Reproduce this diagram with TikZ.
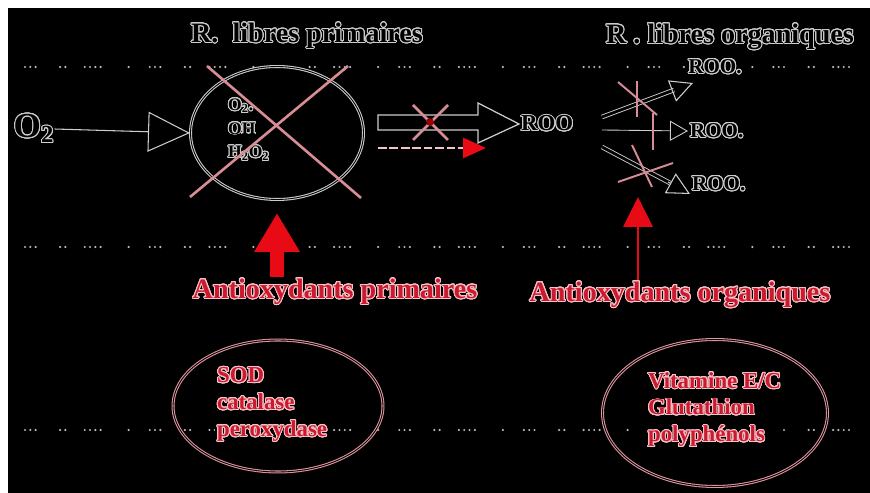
\documentclass[tikz,border=0pt]{standalone}
\usepackage{fontspec}
\setmainfont{Liberation Serif}
\usepackage{contour}
\usetikzlibrary{positioning,arrows.meta,shapes.geometric}
\contourlength{0.55pt}
\contournumber{24}

\definecolor{outl}{RGB}{205,205,205}
\definecolor{xpink}{RGB}{215,140,150}
\definecolor{arrred}{RGB}{232,10,20}
\definecolor{ellpink}{RGB}{225,150,160}
\definecolor{redtxt}{RGB}{205,25,45}
\definecolor{pinkrim}{RGB}{245,195,200}
\definecolor{dotgray}{RGB}{185,185,185}

\newcommand{\hol}[1]{\contour{outl}{\textcolor{black}{#1}}}
\newcommand{\redhol}[1]{\contour{pinkrim}{\textcolor{redtxt}{#1}}}

\begin{document}
\begin{tikzpicture}[
  x=0.02cm, y=-0.02cm,
  lbl/.style={font=\bfseries\fontsize{16}{18}\selectfont, inner sep=1pt, fill=black},
  roo/.style={font=\bfseries\fontsize{12}{14}\selectfont, inner sep=1pt, fill=black},
  enz/.style={font=\bfseries\fontsize{13}{15.3}\selectfont, align=left, anchor=west, inner sep=1pt, fill=black},
  oval/.style={ellipse, draw=ellpink, line width=0.6pt, double=black, double distance=0.5pt},
  cross/.style={draw=xpink, line width=1.5pt},
  hollowline/.style={draw=outl, line width=0.5pt, double=black, double distance=1.6pt},
  dotrow/.style={draw=dotgray, line width=1.4pt, line cap=round,
    dash pattern=on 0pt off 3pt on 0pt off 3pt on 0pt off 14pt on 0pt off 3pt on 0pt off 11pt
      on 0pt off 3pt on 0pt off 3pt on 0pt off 3pt on 0pt off 16pt on 0pt off 12pt}
]
  \useasboundingbox (0,0) rectangle (870,493);
  \fill[white] (0,0) rectangle (870,493);
  \fill[black] (8,8) rectangle (870,493);

  % dotted rows
  \foreach \yy in {67,247,430}
    \draw[dotrow] (25,\yy) -- (868,\yy);

  % titles
  \node[lbl] (titprim) at (307,36) {\hol{R.~ libres primaires}};
  \node[lbl] (titorg) at (730,37) {\hol{R . libres organiques}};

  % primary radicals
  \node[font=\bfseries\fontsize{20}{22}\selectfont, inner sep=0pt] (o2) at (34,129) {\hol{O\textsubscript{2}}};
  \node[oval, draw=outl, minimum width=3.46cm, minimum height=2.66cm] (primell) at (277,133) {};
  \node[font=\bfseries\fontsize{10}{13.5}\selectfont, align=left, anchor=west, inner sep=1pt] (radtxt) at (226,130)
    {\hol{O\textsubscript{2}.}\\\hol{OH}\\\hol{H\textsubscript{2}O\textsubscript{2}}};
  \draw[outl, line width=0.6pt, -{Triangle[open, length=0.84cm, width=0.8cm]}] (o2.east) -- (primell.west);
  \draw[cross] (207,66) -- (361,198);
  \draw[cross] (190,197) -- (348,66);

  % hollow block arrow towards ROO
  \node[roo, font=\bfseries\fontsize{13}{15}\selectfont, anchor=west] (roo1) at (519,124) {\hol{ROO}};
  \draw[outl, line width=0.7pt] (378,115) -- (478,115) -- (478,103) -- (roo1.west)
    -- (478,143) -- (478,130) -- (378,130) -- cycle;
  \draw[cross] (413,105) -- (448,140);
  \draw[cross] (448,105) -- (413,140);
  \fill[red!60!black] (430,122) circle (2.2pt);
  \coordinate (dashs) at (378,148);
  \coordinate (dashe) at (486,148);
  \draw[pinkrim, line width=1.6pt, dash pattern=on 5pt off 1.5pt,
    -{Triangle[length=0.46cm, width=0.4cm, color=arrred]}] (dashs) -- (dashe);

  % organic radicals
  \node[roo] (roo2) at (715,67) {\hol{ROO.}};
  \node[roo, anchor=west] (roo3) at (688,131) {\hol{ROO.}};
  \node[roo, anchor=west] (roo4) at (690,184) {\hol{ROO.}};
  \coordinate (srcup) at (602,117);
  \coordinate (srcmid) at (602,130);
  \coordinate (srclow) at (602,147);
  \coordinate (tipup) at (693,83);
  \coordinate (tiplow) at (690,194);
  \draw[hollowline] (srcup) -- (674,90);
  \draw[outl, line width=0.6pt, -{Triangle[open, length=0.45cm, width=0.45cm]}] (672,91) -- (tipup);
  \draw[outl, line width=0.5pt, -{Triangle[open, length=0.36cm, width=0.4cm]}] (srcmid) -- (roo3.west);
  \draw[hollowline] (srclow) -- (670,183);
  \draw[outl, line width=0.6pt, -{Triangle[open, length=0.45cm, width=0.45cm]}] (668,182) -- (tiplow);
  \draw[cross, line width=1.1pt] (618,82) -- (657,115);
  \draw[cross, line width=1.1pt] (637,81) -- (637,117);
  \draw[xpink, line width=0.8pt] (653,113) -- (653,150);
  \draw[cross, line width=1.1pt] (632,145) -- (652,187);
  \draw[cross, line width=1.1pt] (618,182) -- (673,163);

  % antioxidants
  \node[lbl] (antprim) at (335,292) {\redhol{Antioxydants primaires}};
  \node[lbl] (antorg) at (680,295) {\redhol{Antioxydants organiques}};
  \coordinate (primtip) at (277,213);
  \coordinate (orgtip) at (638,197);
  \draw[arrred, line width=8.5pt, -{Triangle[length=0.78cm, width=0.86cm]}] (primtip |- antprim.north) -- (primtip);
  \draw[arrred, line width=1.7pt, -{Triangle[length=0.6cm, width=0.58cm]}] (orgtip |- antorg.north) -- (orgtip);

  % enzymes and vitamins
  \node[oval, minimum width=4.2cm, minimum height=2.64cm] (enzell) at (278,406) {};
  \node[oval, minimum width=4.5cm, minimum height=2.94cm] (vitell) at (715,413) {};
  \node[enz] (enztxt) at (215,405) {\redhol{SOD}\\\redhol{catalase}\\\redhol{peroxydase}};
  \node[enz] (vittxt) at (646,410) {\redhol{Vitamine E/C}\\\redhol{Glutathion}\\\redhol{polyphénols}};
\end{tikzpicture}
\end{document}
